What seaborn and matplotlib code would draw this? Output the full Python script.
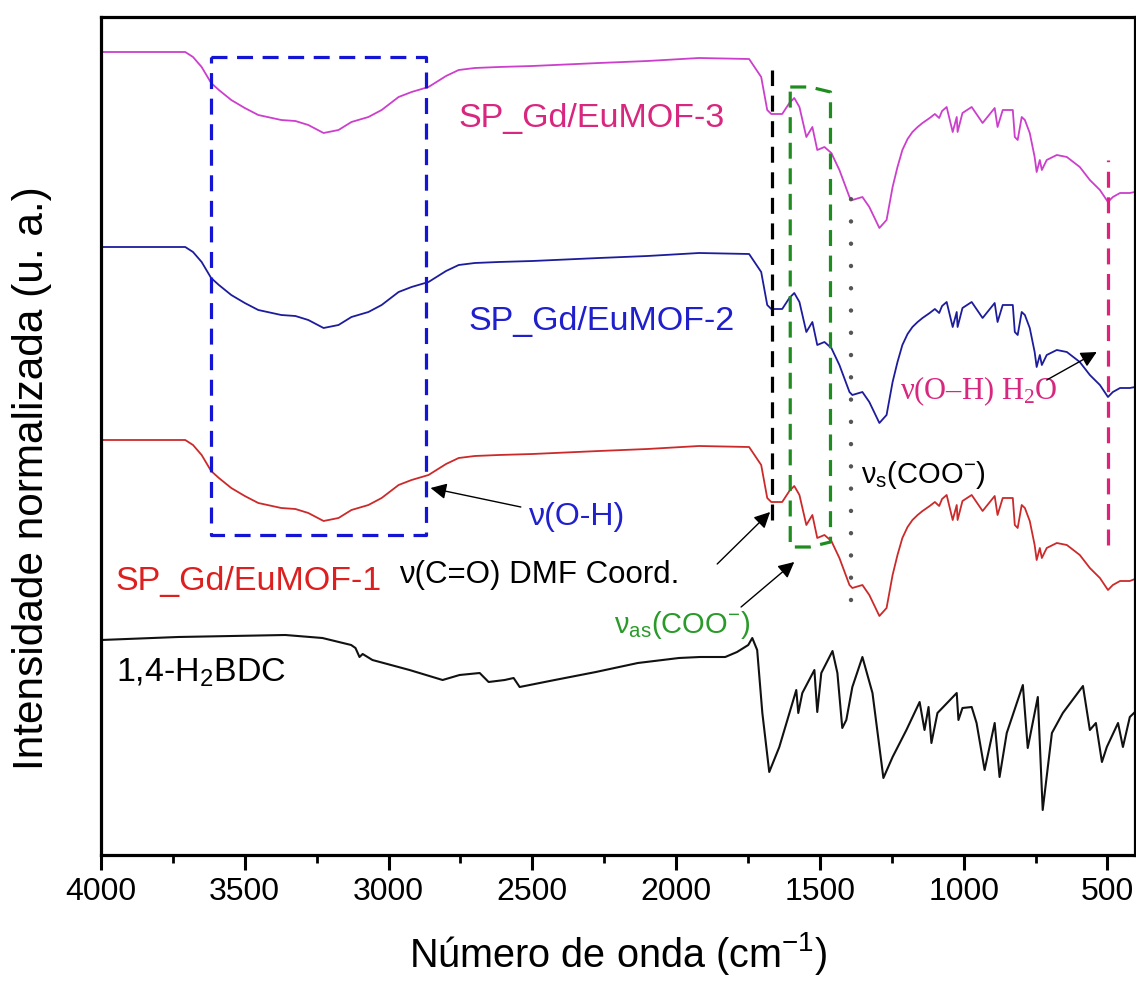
import numpy as np
import pandas as pd
import seaborn as sns
import matplotlib
matplotlib.use("Agg")
import matplotlib.pyplot as plt
from matplotlib.ticker import MultipleLocator, FixedLocator

# ---------------- data ----------------
wn_mof = [4000, 3707, 3680, 3650, 3617, 3590, 3547, 3500, 3453, 3373, 3324, 3279, 3226, 3174,
          3129, 3070, 3024, 2965, 2920, 2861, 2800, 2756, 2700, 2617, 2500, 2268, 2100, 1920,
          1746, 1704, 1683, 1669, 1631, 1606, 1589, 1571, 1547, 1526, 1509, 1484, 1460, 1432,
          1397, 1387, 1352, 1328, 1293, 1268, 1247, 1230, 1213, 1195, 1178, 1160, 1143, 1118,
          1100, 1085, 1075, 1059, 1038, 1024, 1021, 1004, 972, 934, 892, 882, 864, 829, 822,
          812, 798, 787, 770, 753, 746, 735, 728, 711, 676, 641, 596, 561, 526, 498, 481, 456,
          422, 404]

mof3 = [803, 803, 798, 788, 772, 765, 755, 747, 740, 735, 734, 730, 722, 725,
        733, 738, 745, 758, 763, 768, 779, 785, 787, 788, 789, 792, 794, 797,
        796, 778, 745, 741, 741, 752, 757, 748, 718, 728, 705, 708, 702, 685,
        658, 655, 658, 648, 627, 635, 668, 688, 705, 716, 723, 728, 732, 737,
        741, 737, 744, 748, 723, 738, 723, 742, 748, 732, 747, 728, 745, 745, 718,
        715, 738, 735, 722, 698, 683, 695, 685, 695, 700, 698, 688, 675, 665, 653, 658, 662,
        662, 663]

mof2 = [608, 608, 603, 593, 577, 570, 560, 552, 545, 540, 539, 535, 527, 530,
        538, 543, 550, 563, 568, 573, 584, 590, 592, 593, 594, 597, 599, 602,
        601, 583, 550, 546, 546, 557, 562, 553, 523, 533, 510, 513, 507, 490,
        463, 460, 463, 453, 432, 440, 473, 493, 510, 521, 528, 533, 537, 542,
        546, 542, 549, 553, 528, 543, 528, 547, 553, 537, 552, 533, 550, 550, 523,
        520, 543, 540, 527, 503, 488, 500, 490, 500, 505, 503, 493, 480, 470, 458, 463, 467,
        467, 468]

mof1 = [415, 415, 410, 400, 384, 377, 367, 359, 352, 347, 346, 342, 334, 337,
        345, 350, 357, 370, 375, 380, 391, 397, 399, 400, 401, 404, 406, 409,
        408, 390, 357, 353, 353, 364, 369, 360, 330, 340, 317, 320, 314, 297,
        270, 267, 270, 260, 239, 247, 280, 300, 317, 328, 335, 340, 344, 349,
        353, 349, 356, 360, 335, 350, 335, 354, 360, 344, 359, 340, 357, 357, 330,
        327, 350, 347, 334, 310, 295, 307, 297, 307, 312, 310, 300, 287, 277, 265, 270, 274,
        274, 276]

wn_bdc = [4000, 3732, 3359, 3230, 3130, 3115, 3101, 3090, 3056, 2927, 2812, 2753, 2683,
          2652, 2596, 2565, 2544, 2422, 2279, 2133, 1990, 1917, 1829, 1788, 1749, 1735,
          1718, 1700, 1676, 1641, 1613, 1582, 1575, 1561, 1519, 1509, 1495, 1456, 1439,
          1422, 1408, 1387, 1352, 1317, 1279, 1247, 1199, 1153, 1136, 1122, 1112, 1091,
          1024, 1018, 1004, 972, 955, 927, 892, 875, 850, 794, 777, 742, 725, 693, 655,
          585, 561, 540, 519, 502, 463, 446, 422, 404]
bdc = [215, 218, 220, 217, 210, 207, 198, 201, 195, 185, 175, 180, 182,
       173, 175, 177, 168, 175, 183, 192, 197, 198, 198, 203, 210, 217,
       205, 142, 83, 108, 135, 165, 142, 162, 185, 143, 182, 204, 182,
       127, 135, 168, 198, 162, 77, 98, 125, 153, 125, 148, 112, 142,
       162, 135, 147, 148, 132, 85, 132, 78, 122, 170, 107, 158, 45, 122, 142,
       169, 125, 132, 93, 108, 132, 108, 138, 143]

sample_names = ["SP_Gd/EuMOF-3", "SP_Gd/EuMOF-2", "SP_Gd/EuMOF-1", "1,4-H$_2$BDC"]
xtick_values = [4000, 3500, 3000, 2500, 2000, 1500, 1000, 500]
xtick_labels = ["4000", "3500", "3000", "2500", "2000", "1500", "1000", "500"]

# highlighted regions (wavenumber, a.u.)
oh_box_x = [3617, 2868]
oh_box_y = [320, 798]
coo_as_x = [1603, 1535, 1463]
coo_as_y = [308, 768, 5]
dmf_line = (1666, 335, 785)
coo_s_line = (1390, 255, 675)
h2o_line = (498, 310, 695)

# ---------------- style ----------------
sns.set_style("ticks")
plt.rcParams["font.family"] = ["Liberation Sans", "DejaVu Sans"]
plt.rcParams["mathtext.fontset"] = "custom"
plt.rcParams["mathtext.rm"] = "Liberation Sans"
plt.rcParams["mathtext.it"] = "Liberation Sans:italic"
plt.rcParams["mathtext.default"] = "regular"

fig = plt.figure(figsize=(11.36, 9.83), dpi=100)
ax = fig.add_axes([101 / 1136, 128 / 983, 1034 / 1136, 838 / 983])

curve_colors = ["#cc3fcc", "#1c1c9c", "#cc2a2a", "#111111"]
series = [(wn_mof, mof3), (wn_mof, mof2), (wn_mof, mof1), (wn_bdc, bdc)]
for (xs, ys), name, col in zip(series, sample_names, curve_colors):
    df = pd.DataFrame({"wn": xs, "val": ys})
    sns.lineplot(data=df, x="wn", y="val", ax=ax, color=col, sort=False,
                 estimator=None, lw=1.3 if col != "#111111" else 1.5, legend=False)

# highlight boxes / lines
bx0, bx1 = oh_box_x
by0, by1 = oh_box_y
ax.plot([bx0, bx1, bx1, bx0, bx0], [by1, by1, by0, by0, by1], color="#1414d4",
        lw=2.3, ls=(0, (5, 3)))
gx0, gxm, gx1 = coo_as_x
gy0, gy1, gsl = coo_as_y
ax.plot([gx0, gxm, gx1, gx1, gxm, gx0, gx0],
        [gy1, gy1, gy1 - gsl, gy0 + gsl, gy0, gy0, gy1],
        color="#1f8c1f", lw=2.3, ls=(0, (5, 3)))
ax.plot([dmf_line[0], dmf_line[0]], dmf_line[1:], color="black", lw=2.3, ls=(0, (5, 3)))
ax.plot([coo_s_line[0], coo_s_line[0]], coo_s_line[1:], color="#555555", lw=3.2,
        ls=(0, (0.01, 5.0)), dash_capstyle="round")
ax.plot([h2o_line[0], h2o_line[0]], h2o_line[1:], color="#e0207a", lw=2.3, ls=(0, (5, 3)))

# sample labels
ax.text(2756, 728, sample_names[0], color="#d8277f", fontsize=24.5, ha="left", va="baseline")
ax.text(2721, 525, sample_names[1], color="#1f1fcc", fontsize=24.5, ha="left", va="baseline")
ax.text(3951, 265, sample_names[2], color="#dd1f1f", fontsize=24.5, ha="left", va="baseline")
ax.text(3948, 173, sample_names[3], color="black", fontsize=24.5, ha="left", va="baseline")

# band annotations
arrow = dict(arrowstyle="-|>", color="black", lw=1.0, mutation_scale=24,
             shrinkA=0, shrinkB=0)
ax.text(2512, 330, "ν(O-H)", color="#2020cc", fontsize=23, ha="left", va="baseline")
ax.annotate("", xy=(2854, 367), xytext=(2540, 348), arrowprops=arrow)
ax.text(2965, 272, "ν(C=O) DMF Coord.", color="black", fontsize=22.5, ha="left", va="baseline")
ax.annotate("", xy=(1673, 343), xytext=(1857, 291), arrowprops=arrow)
ax.text(2216, 222, "ν$_{as}$(COO$^{-}$)", color="#2a9a2a", fontsize=21, ha="left", va="baseline")
ax.annotate("", xy=(1589, 293), xytext=(1774, 248), arrowprops=arrow)
ax.text(1356, 372, "ν$_{s}$(COO$^{-}$)", color="black", fontsize=21, ha="left", va="baseline")
ax.text(1223, 456, "ν(O–H) H$_2$O", color="#d8277f", fontsize=22, ha="left",
        va="baseline", family=["Liberation Serif", "DejaVu Serif"])
ax.annotate("", xy=(537, 503), xytext=(711, 475), arrowprops=arrow)

# axes
ax.set_xlim(4000, 404)
ax.set_ylim(0, 838)
ax.set_yticks([])
ax.xaxis.set_major_locator(FixedLocator(xtick_values))
ax.set_xticklabels(xtick_labels)
ax.xaxis.set_minor_locator(MultipleLocator(250))
ax.tick_params(axis="x", which="major", direction="out", length=11, width=2.2,
               labelsize=23, pad=5, top=False, colors="black")
ax.tick_params(axis="x", which="minor", direction="out", length=6, width=2.0, top=False,
               colors="black")
for sp in ax.spines.values():
    sp.set_linewidth(2.3)
    sp.set_color("black")
    sp.set_visible(True)

ax.set_xlabel("Número de onda (cm$^{-1}$)", fontsize=28.5, color="black")
ax.xaxis.set_label_coords(0.5, -0.09)
ax.set_ylabel("Intensidade normalizada (u. a.)", fontsize=30.5, color="black")
ax.yaxis.set_label_coords(-0.047, 0.45)

fig.savefig("out.png", dpi=100)
